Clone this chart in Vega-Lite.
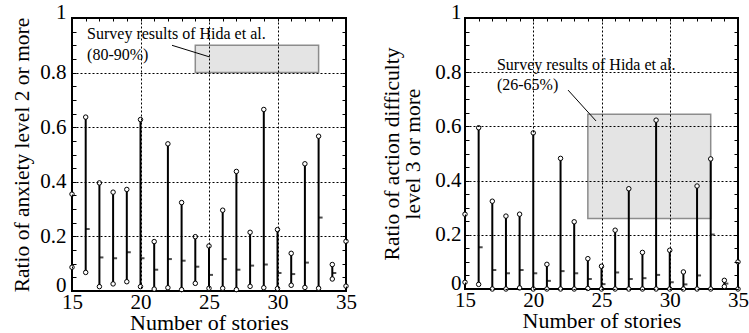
{
  "$schema": "https://vega.github.io/schema/vega-lite/v6.json",
  "background": "white",
  "padding": {"left": 10, "top": 0, "right": 0, "bottom": 0},
  "spacing": 22,
  "config": {
    "view": {"stroke": "black", "strokeWidth": 2}
  },
  "datasets": {
    "anx": [
      {"s": 15, "lo": 0.087, "hi": 0.355},
      {"s": 16, "lo": 0.068, "hi": 0.637, "m": 0.227},
      {"s": 17, "lo": 0.016, "hi": 0.396, "m": 0.123},
      {"s": 18, "lo": 0.026, "hi": 0.362, "m": 0.12},
      {"s": 19, "lo": 0.034, "hi": 0.372, "m": 0.142},
      {"s": 20, "lo": 0.016, "hi": 0.628, "m": 0.12},
      {"s": 21, "lo": 0.007, "hi": 0.181, "m": 0.078},
      {"s": 22, "lo": 0.012, "hi": 0.539, "m": 0.117},
      {"s": 23, "lo": 0.005, "hi": 0.324, "m": 0.111},
      {"s": 24, "lo": 0.028, "hi": 0.199, "m": 0.089},
      {"s": 25, "lo": 0.01, "hi": 0.165, "m": 0.059},
      {"s": 26, "lo": 0.01, "hi": 0.296, "m": 0.117},
      {"s": 27, "lo": 0.005, "hi": 0.438, "m": 0.078},
      {"s": 28, "lo": 0.017, "hi": 0.215, "m": 0.093},
      {"s": 29, "lo": 0.012, "hi": 0.665, "m": 0.097},
      {"s": 30, "lo": 0.009, "hi": 0.225, "m": 0.066},
      {"s": 31, "lo": 0.021, "hi": 0.138, "m": 0.062},
      {"s": 32, "lo": 0.013, "hi": 0.466, "m": 0.104},
      {"s": 33, "lo": 0.01, "hi": 0.567, "m": 0.269},
      {"s": 34, "lo": 0.044, "hi": 0.097, "m": 0.066},
      {"s": 35, "lo": 0.018, "hi": 0.182}
    ],
    "act": [
      {"s": 15, "lo": 0.025, "hi": 0.276},
      {"s": 16, "lo": 0.017, "hi": 0.595, "m": 0.154},
      {"s": 17, "lo": 0.0, "hi": 0.324, "m": 0.07},
      {"s": 18, "lo": 0.0, "hi": 0.269, "m": 0.058},
      {"s": 19, "lo": 0.004, "hi": 0.276, "m": 0.07},
      {"s": 20, "lo": 0.0, "hi": 0.576, "m": 0.058},
      {"s": 21, "lo": 0.0, "hi": 0.091, "m": 0.03},
      {"s": 22, "lo": 0.0, "hi": 0.482, "m": 0.066},
      {"s": 23, "lo": 0.0, "hi": 0.248, "m": 0.058},
      {"s": 24, "lo": 0.002, "hi": 0.112, "m": 0.037},
      {"s": 25, "lo": 0.0, "hi": 0.084, "m": 0.018},
      {"s": 26, "lo": 0.0, "hi": 0.217, "m": 0.061},
      {"s": 27, "lo": 0.0, "hi": 0.37, "m": 0.037},
      {"s": 28, "lo": 0.0, "hi": 0.135, "m": 0.04},
      {"s": 29, "lo": 0.0, "hi": 0.623, "m": 0.052},
      {"s": 30, "lo": 0.0, "hi": 0.143, "m": 0.025},
      {"s": 31, "lo": 0.0, "hi": 0.063, "m": 0.017},
      {"s": 32, "lo": 0.0, "hi": 0.38, "m": 0.05},
      {"s": 33, "lo": 0.0, "hi": 0.48, "m": 0.201},
      {"s": 34, "lo": 0.009, "hi": 0.032, "m": 0.02},
      {"s": 35, "lo": 0.0, "hi": 0.1}
    ],
    "boxA": [{"s": 24, "s2": 33, "lo": 0.8, "hi": 0.9}],
    "boxB": [{"s": 24, "s2": 33, "lo": 0.26, "hi": 0.645}],
    "noteA": [
      {"s": 16.1, "lo": 0.94, "t": "Survey results of Hida et al."},
      {"s": 16.1, "lo": 0.864, "t": "(80-90%)"}
    ],
    "noteB": [
      {"s": 17.34, "lo": 0.827, "t": "Survey results of Hida et al."},
      {"s": 17.34, "lo": 0.753, "t": "(26-65%)"}
    ],
    "leadA": [{"s": 22.3, "lo": 0.9, "s2": 25.07, "hi": 0.857}],
    "leadB": [{"s": 22.55, "lo": 0.734, "s2": 24.6, "hi": 0.62}]
  },
  "hconcat": [
    {
      "width": 274, "height": 273,
      "resolve": {"axis": {"x": "independent", "y": "independent"}},
      "encoding": {
        "x": {"field": "s", "type": "quantitative", "scale": {"domain": [15, 35], "nice": false}, "axis": null},
        "y": {"field": "lo", "type": "quantitative", "scale": {"domain": [0, 1], "nice": false}, "axis": null}
      },
      "layer": [
        {
          "data": {"name": "boxA"},
          "mark": {"type": "rect", "fill": "#e4e4e4", "stroke": "#8c8c8c", "strokeWidth": 1.5},
          "encoding": {"x2": {"field": "s2"}, "y2": {"field": "hi"}}
        },
        {
          "data": {"name": "leadA"},
          "mark": {"type": "rule", "color": "black", "strokeWidth": 1},
          "encoding": {"x2": {"field": "s2"}, "y2": {"field": "hi"}}
        },
        {
          "data": {"name": "noteA"},
          "mark": {"type": "text", "align": "left", "baseline": "middle", "font": "Times New Roman, Liberation Serif, serif", "fontSize": 16, "color": "black"},
          "encoding": {"text": {"field": "t"}}
        },
        {
          "data": {"name": "anx"},
          "mark": {"type": "rule", "color": "black", "strokeWidth": 2},
          "encoding": {
            "x": {"field": "s", "type": "quantitative", "title": "Number of stories",
                  "axis": {"orient": "bottom", "values": [15, 20, 25, 30, 35], "domain": false, "ticks": false, "tickSize": 0,
                           "grid": true, "gridColor": "black", "gridDash": [2, 2], "gridWidth": 1, "zindex": 1,
                           "labelFlush": false, "labelOverlap": false,
                           "labelPadding": 0, "labelFont": "Times New Roman, Liberation Serif, serif", "labelFontSize": 21, "labelColor": "black",
                           "titlePadding": 0, "titleFont": "Times New Roman, Liberation Serif, serif", "titleFontSize": 22, "titleFontWeight": "normal", "titleColor": "black"}},
            "y": {"field": "lo", "type": "quantitative", "title": "Ratio of anxiety level 2 or more",
                  "axis": {"orient": "left", "values": [0, 0.2, 0.4, 0.6, 0.8, 1], "format": "~g", "domain": false, "ticks": false, "tickSize": 0,
                           "grid": true, "gridColor": "black", "gridDash": [2, 2], "gridWidth": 1, "zindex": 1,
                           "labelFlush": false, "labelOverlap": false,
                           "labelPadding": 6, "labelFont": "Times New Roman, Liberation Serif, serif", "labelFontSize": 21, "labelColor": "black",
                           "labelBaseline": {"condition": {"test": "datum.value == 0 || datum.value == 1", "value": "alphabetic"}, "value": "middle"},
                           "titlePadding": 6, "titleFont": "Times New Roman, Liberation Serif, serif", "titleFontSize": 21.5, "titleFontWeight": "normal", "titleColor": "black"}},
            "y2": {"field": "hi"}
          }
        },
        {
          "data": {"name": "anx"},
          "mark": {"type": "tick", "orient": "horizontal", "color": "black", "size": 4, "thickness": 2, "xOffset": 2},
          "encoding": {"y": {"field": "m", "type": "quantitative", "axis": null}}
        },
        {
          "data": {"name": "anx"},
          "mark": {"type": "point", "shape": "circle", "filled": true, "fill": "white", "stroke": "black", "strokeWidth": 1, "size": 20, "opacity": 1},
          "encoding": {
            "x": {"field": "s", "type": "quantitative",
                  "axis": {"orient": "top", "title": null, "labels": false, "grid": false, "domain": false,
                           "values": [15, 16, 17, 18, 19, 20, 21, 22, 23, 24, 25, 26, 27, 28, 29, 30, 31, 32, 33, 34, 35],
                           "ticks": true, "tickSize": 3, "offset": -3, "tickColor": "black", "tickWidth": 1, "zindex": 1}},
            "y": {"field": "lo", "type": "quantitative",
                  "axis": {"orient": "left", "title": null, "labels": false, "grid": false, "domain": false,
                           "values": [0, 0.05, 0.1, 0.15, 0.2, 0.25, 0.3, 0.35, 0.4, 0.45, 0.5, 0.55, 0.6, 0.65, 0.7, 0.75, 0.8, 0.85, 0.9, 0.95, 1],
                           "ticks": true, "tickSize": 4, "offset": -4, "tickColor": "black", "tickWidth": 1, "zindex": 1}}
          }
        },
        {
          "data": {"name": "anx"},
          "mark": {"type": "point", "shape": "circle", "filled": true, "fill": "white", "stroke": "black", "strokeWidth": 1, "size": 20, "opacity": 1},
          "encoding": {
            "y": {"field": "hi", "type": "quantitative",
                  "axis": {"orient": "right", "title": null, "labels": false, "grid": false, "domain": false,
                           "values": [0, 0.05, 0.1, 0.15, 0.2, 0.25, 0.3, 0.35, 0.4, 0.45, 0.5, 0.55, 0.6, 0.65, 0.7, 0.75, 0.8, 0.85, 0.9, 0.95, 1],
                           "ticks": true, "tickSize": 4, "offset": -4, "tickColor": "black", "tickWidth": 1, "zindex": 1}}
          }
        }
      ]
    },
    {
      "width": 273, "height": 271,
      "resolve": {"axis": {"x": "independent", "y": "independent"}},
      "encoding": {
        "x": {"field": "s", "type": "quantitative", "scale": {"domain": [15, 35], "nice": false}, "axis": null},
        "y": {"field": "lo", "type": "quantitative", "scale": {"domain": [0, 1], "nice": false}, "axis": null}
      },
      "layer": [
        {
          "data": {"name": "boxB"},
          "mark": {"type": "rect", "fill": "#e4e4e4", "stroke": "#8c8c8c", "strokeWidth": 1.5},
          "encoding": {"x2": {"field": "s2"}, "y2": {"field": "hi"}}
        },
        {
          "data": {"name": "leadB"},
          "mark": {"type": "rule", "color": "black", "strokeWidth": 1},
          "encoding": {"x2": {"field": "s2"}, "y2": {"field": "hi"}}
        },
        {
          "data": {"name": "noteB"},
          "mark": {"type": "text", "align": "left", "baseline": "middle", "font": "Times New Roman, Liberation Serif, serif", "fontSize": 16, "color": "black"},
          "encoding": {"text": {"field": "t"}}
        },
        {
          "data": {"name": "act"},
          "mark": {"type": "rule", "color": "black", "strokeWidth": 2},
          "encoding": {
            "x": {"field": "s", "type": "quantitative", "title": "Number of stories",
                  "axis": {"orient": "bottom", "values": [15, 20, 25, 30, 35], "domain": false, "ticks": false, "tickSize": 0,
                           "grid": true, "gridColor": "black", "gridDash": [2, 2], "gridWidth": 1, "zindex": 1,
                           "labelFlush": false, "labelOverlap": false,
                           "labelPadding": 0, "labelFont": "Times New Roman, Liberation Serif, serif", "labelFontSize": 21, "labelColor": "black",
                           "titlePadding": 0, "titleFont": "Times New Roman, Liberation Serif, serif", "titleFontSize": 22, "titleFontWeight": "normal", "titleColor": "black"}},
            "y": {"field": "lo", "type": "quantitative", "title": ["Ratio of action difficulty", "level 3 or more"],
                  "axis": {"orient": "left", "values": [0, 0.2, 0.4, 0.6, 0.8, 1], "format": "~g", "domain": false, "ticks": false, "tickSize": 0,
                           "grid": true, "gridColor": "black", "gridDash": [2, 2], "gridWidth": 1, "zindex": 1,
                           "labelFlush": false, "labelOverlap": false,
                           "labelPadding": 4, "labelFont": "Times New Roman, Liberation Serif, serif", "labelFontSize": 21, "labelColor": "black",
                           "labelBaseline": {"condition": {"test": "datum.value == 0 || datum.value == 1", "value": "alphabetic"}, "value": "middle"},
                           "titlePadding": 10, "titleFont": "Times New Roman, Liberation Serif, serif", "titleFontSize": 21.5, "titleLineHeight": 21, "titleFontWeight": "normal", "titleColor": "black"}},
            "y2": {"field": "hi"}
          }
        },
        {
          "data": {"name": "act"},
          "mark": {"type": "tick", "orient": "horizontal", "color": "black", "size": 4, "thickness": 2, "xOffset": 2},
          "encoding": {"y": {"field": "m", "type": "quantitative", "axis": null}}
        },
        {
          "data": {"name": "act"},
          "mark": {"type": "point", "shape": "circle", "filled": true, "fill": "white", "stroke": "black", "strokeWidth": 1, "size": 20, "opacity": 1},
          "encoding": {
            "x": {"field": "s", "type": "quantitative",
                  "axis": {"orient": "top", "title": null, "labels": false, "grid": false, "domain": false,
                           "values": [15, 16, 17, 18, 19, 20, 21, 22, 23, 24, 25, 26, 27, 28, 29, 30, 31, 32, 33, 34, 35],
                           "ticks": true, "tickSize": 3, "offset": -3, "tickColor": "black", "tickWidth": 1, "zindex": 1}},
            "y": {"field": "lo", "type": "quantitative",
                  "axis": {"orient": "left", "title": null, "labels": false, "grid": false, "domain": false,
                           "values": [0, 0.05, 0.1, 0.15, 0.2, 0.25, 0.3, 0.35, 0.4, 0.45, 0.5, 0.55, 0.6, 0.65, 0.7, 0.75, 0.8, 0.85, 0.9, 0.95, 1],
                           "ticks": true, "tickSize": 4, "offset": -4, "tickColor": "black", "tickWidth": 1, "zindex": 1}}
          }
        },
        {
          "data": {"name": "act"},
          "mark": {"type": "point", "shape": "circle", "filled": true, "fill": "white", "stroke": "black", "strokeWidth": 1, "size": 20, "opacity": 1},
          "encoding": {
            "y": {"field": "hi", "type": "quantitative",
                  "axis": {"orient": "right", "title": null, "labels": false, "grid": false, "domain": false,
                           "values": [0, 0.05, 0.1, 0.15, 0.2, 0.25, 0.3, 0.35, 0.4, 0.45, 0.5, 0.55, 0.6, 0.65, 0.7, 0.75, 0.8, 0.85, 0.9, 0.95, 1],
                           "ticks": true, "tickSize": 4, "offset": -4, "tickColor": "black", "tickWidth": 1, "zindex": 1}}
          }
        }
      ]
    }
  ]
}
